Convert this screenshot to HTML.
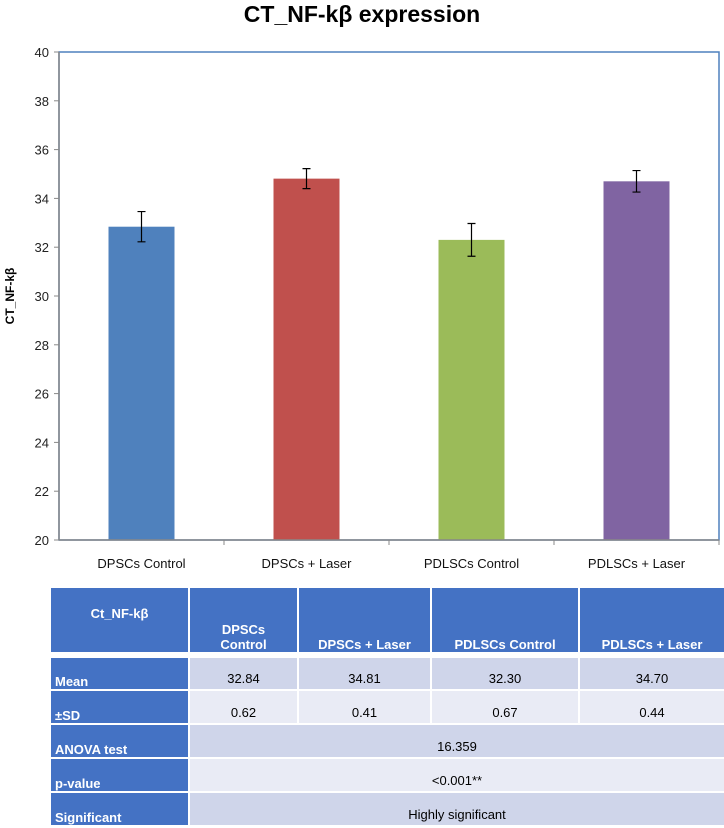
<!DOCTYPE html>
<html><head><meta charset="utf-8"><style>
body{margin:0;background:#fff;width:724px;height:828px;overflow:hidden;font-family:"Liberation Sans",sans-serif}
table{position:absolute;left:49px;top:586px;width:675px;table-layout:fixed;border-collapse:collapse;font-family:"Liberation Sans Narrow","Liberation Sans",sans-serif;font-size:13px}
td{border:2px solid #fff;padding:0;text-align:center;color:#000}
td.h{background:#4472C4;color:#fff;font-weight:bold}
td.l{background:#4472C4;color:#fff;font-weight:bold;text-align:left;padding-left:4px;vertical-align:bottom}
tr.a td.d{background:#CFD5EA}tr.b td.d{background:#E9EBF5}
td.d{vertical-align:bottom;padding-bottom:3px}
</style></head><body>
<svg id="chart" width="724" height="580" style="position:absolute;left:0;top:0">
<text x="362" y="22" text-anchor="middle" font-size="23" font-weight="bold" fill="#000">CT_NF-kβ expression</text>
<text transform="translate(14,296) rotate(-90)" text-anchor="middle" font-size="12" font-weight="bold">CT_NF-kβ</text>
<g id="g"></g>
</svg>
<table>
<colgroup><col style="width:139px"><col style="width:109px"><col style="width:133px"><col style="width:148px"><col style="width:146px"></colgroup>
<tr style="height:66px"><td class="h" style="vertical-align:top;padding-top:18px">Ct_NF-kβ</td><td class="h" style="vertical-align:bottom">DPSCs<br>Control</td><td class="h" style="vertical-align:bottom">DPSCs + Laser</td><td class="h" style="vertical-align:bottom">PDLSCs Control</td><td class="h" style="vertical-align:bottom">PDLSCs + Laser</td></tr>
<tr style="height:4px"><td colspan="5" style="border:0;background:#fff"></td></tr>
<tr class="a" style="height:33px"><td class="l">Mean</td><td class="d">32.84</td><td class="d">34.81</td><td class="d">32.30</td><td class="d">34.70</td></tr>
<tr class="b" style="height:34px"><td class="l">±SD</td><td class="d">0.62</td><td class="d">0.41</td><td class="d">0.67</td><td class="d">0.44</td></tr>
<tr class="a" style="height:34px"><td class="l">ANOVA test</td><td class="d" colspan="4">16.359</td></tr>
<tr class="b" style="height:34px"><td class="l">p-value</td><td class="d" colspan="4">&lt;0.001**</td></tr>
<tr class="a" style="height:34px"><td class="l">Significant</td><td class="d" colspan="4">Highly significant</td></tr>
</table>
<script>
const categories=["DPSCs Control","DPSCs + Laser","PDLSCs Control","PDLSCs + Laser"];
const means=[32.84,34.81,32.30,34.70];
const sds=[0.62,0.41,0.67,0.44];
const yTicks=[20,22,24,26,28,30,32,34,36,38,40];
const colors=["#4F81BD","#C0504D","#9BBB59","#8064A2"];
const L=59,R=719,T=52,B=540,yMin=20,yMax=40;
const y=v=>B-(v-yMin)/(yMax-yMin)*(B-T);
const cw=(R-L)/categories.length;
const x=i=>L+cw*(i+0.5);
const g=document.getElementById('g');const NS='http://www.w3.org/2000/svg';
function mk(t,a){const e=document.createElementNS(NS,t);for(const k in a)e.setAttribute(k,a[k]);g.appendChild(e);return e;}
let e=mk('rect',{x:L,y:T,width:R-L,height:B-T,fill:'none',stroke:'#4F81BD','stroke-width':1.5});


yTicks.forEach(t=>{
 let l=mk('line',{x1:L-5,x2:L,y1:y(t),y2:y(t),stroke:'#888'});
 
 
 let tx=mk('text',{x:L-10,y:y(t)+5,'text-anchor':'end','font-size':13,fill:'#222'});tx.textContent=t;
 
 
});
categories.forEach((c,i)=>{
 const bw=66;
 let r=mk('rect',{x:x(i)-bw/2,y:y(means[i]),width:bw,height:B-y(means[i]),fill:colors[i]});
 
 
 const hi=y(means[i]+sds[i]),lo=y(means[i]-sds[i]);
 let p=mk('path',{d:`M${x(i)},${hi}V${lo}M${x(i)-4},${hi}H${x(i)+4}M${x(i)-4},${lo}H${x(i)+4}`,stroke:'#000','stroke-width':1.2,fill:'none'});
 
 
 let tk=mk('line',{x1:L+cw*(i+1),x2:L+cw*(i+1),y1:B,y2:B+5,stroke:'#888'});
 
 
 let tx=mk('text',{x:x(i),y:B+28,'text-anchor':'middle','font-size':13,fill:'#111'});tx.textContent=c;
 
 
});
let ax=mk('line',{x1:L,x2:L,y1:T,y2:B,stroke:'#888','stroke-width':1.5});


let bx=mk('line',{x1:L,x2:R,y1:B,y2:B,stroke:'#888','stroke-width':1.5});


</script>
</body></html>
